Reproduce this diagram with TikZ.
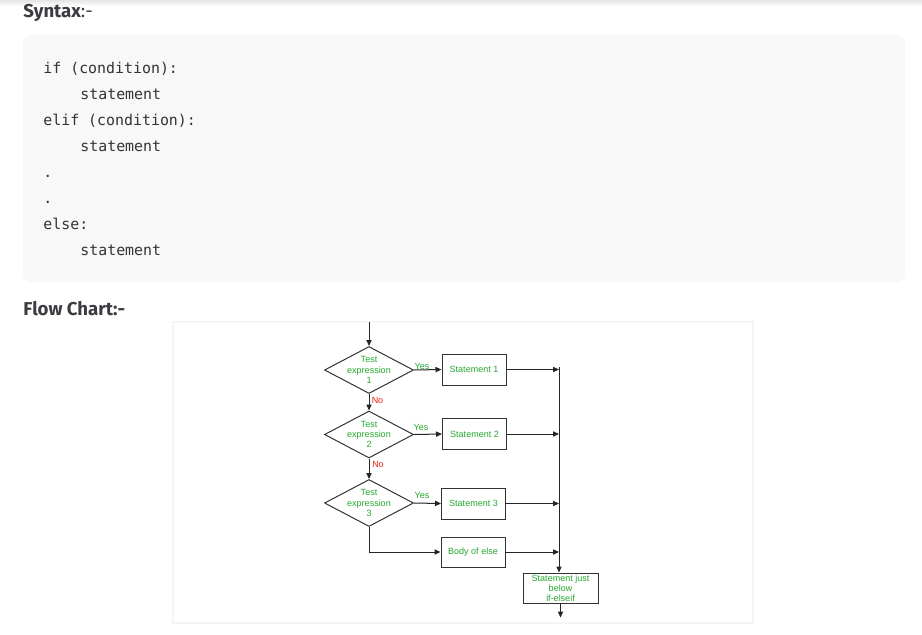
\documentclass[tikz,border=0pt]{standalone}
\usepackage{fontspec}
\setmainfont{Fira Sans}
\newfontfamily\codefont{DejaVu Sans Mono}
\newfontfamily\chartfont{Liberation Sans}
\usetikzlibrary{shapes.geometric,arrows.meta,positioning}

\definecolor{headgray}{RGB}{58,60,64}
\definecolor{codegray}{RGB}{51,51,51}
\definecolor{codebg}{RGB}{248,248,249}
\definecolor{chartgreen}{RGB}{38,168,48}
\definecolor{chartred}{RGB}{232,32,32}

\tikzset{
  heading/.style={anchor=base west, inner sep=0pt, text=headgray, font=\fontsize{9.3}{11}\selectfont},
  codeline/.style={anchor=base west, inner sep=0pt, text=codegray, font=\codefont\fontsize{7.45}{9}\selectfont},
  chartfont/.style={font=\chartfont\fontsize{4.5}{5.1}\selectfont},
  test/.style={diamond, draw=black!80, line width=0.5pt, aspect=1.9, minimum width=44.5pt, minimum height=23.5pt, inner sep=-1pt, align=center, chartfont, text=chartgreen},
  stmt/.style={rectangle, draw=black!80, line width=0.5pt, minimum width=32pt, minimum height=15.5pt, inner sep=0pt, align=center, chartfont, text=chartgreen},
  yeslabel/.style={inner sep=0pt, chartfont, text=chartgreen},
  nolabel/.style={inner sep=0pt, chartfont, text=chartred},
  flow/.style={draw=black!85, line width=0.5pt, -{Triangle[length=3pt,width=2.6pt]}},
}

\begin{document}
\begin{tikzpicture}[x=0.5pt,y=-0.5pt]
\useasboundingbox (0,0) rectangle (922,634);
\shade[top color=black!10, bottom color=white] (0,0) rectangle (922,6); %top shadow

\node[heading] (syntax) at (23,17) {\bfseries Syntax\mdseries:-};
\fill[codebg, rounded corners=4pt] (23,35) rectangle (905,282); %code box
\node[codeline] (l1) at (43,73) {if (condition):};
\node[codeline] (l2) at (80,99) {statement};
\node[codeline] (l3) at (43,125) {elif (condition):};
\node[codeline] (l4) at (80,151) {statement};
\node[codeline] (l5) at (43,177) {.};
\node[codeline] (l6) at (43,203) {.};
\node[codeline] (l7) at (43,229) {else:};
\node[codeline] (l8) at (80,255) {statement};

\node[heading] (flowchart) at (23,315) {\bfseries Flow Chart:-};
\draw[black!4, line width=1pt, fill=white] (173,322) rectangle (753,623); %chart panel

%tests and statements
\node[test] (t1) at (369,370) {Test\\expression\\1};
\node[test] (t2) at (369,434.5) {Test\\expression\\2};
\node[test] (t3) at (369,503) {Test\\expression\\3};
\node[stmt] (s1) at (474,369.5) {Statement 1};
\node[stmt] (s2) at (474.5,434) {Statement 2};
\node[stmt] (s3) at (473.5,503.5) {Statement 3};
\node[stmt, minimum height=15pt] (selse) at (473,552) {Body of else};
\node[stmt, minimum width=37.5pt, minimum height=15pt] (after) at (560.5,588) {Statement just\\below\\if-elseif};

\node[yeslabel] (y1) at (422,366) {Yes};
\node[yeslabel] (y2) at (421,427) {Yes};
\node[yeslabel] (y3) at (422,495) {Yes};
\node[nolabel] (n1) at (377.5,400) {No};
\node[nolabel] (n2) at (378,464) {No};

\coordinate (entry) at (369,322);
\coordinate (join) at (559,367);
\coordinate[below=7pt of after.south] (exit);

\draw[flow] (entry) -- (t1.north);
\draw[flow] (t1.south) -- (t2.north);
\draw[flow] (t2.south) -- (t3.north);
\draw[flow] (t1.east) -- (s1.west);
\draw[flow] (t2.east) -- (s2.west);
\draw[flow] (t3.east) -- (s3.west);
\draw[flow] (t3.south) |- (selse.west); %else branch

\draw[flow] (s1.east) -- (s1.east -| join);
\draw[flow] (s2.east) -- (s2.east -| join);
\draw[flow] (s3.east) -- (s3.east -| join);
\draw[flow] (selse.east) -- (selse.east -| join);
\draw[flow] (join) -- (join |- after.north);
\draw[flow] (after.south) -- (exit);
\end{tikzpicture}
\end{document}
